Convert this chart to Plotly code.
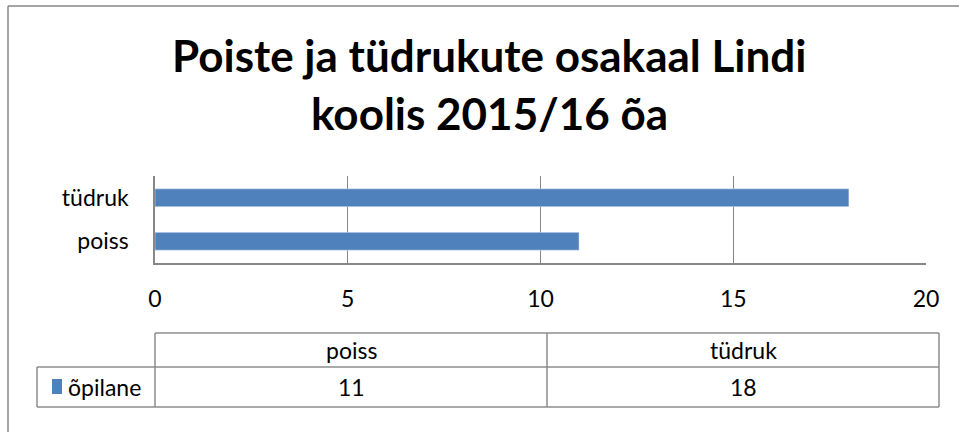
import plotly.graph_objects as go

# data
categories = ["poiss", "tüdruk"]
series_name = "õpilane"
values = [11, 18]
title_lines = ["Poiste ja tüdrukute osakaal Lindi", "koolis 2015/16 õa"]
x_ticks = [0, 5, 10, 15, 20]

W, H = 959, 432
L, R, T, B = 155, 33, 176, 169
BLUE = "#4F81BD"
GRAY = "#878787"
FONT = "Lato"


def px(x):
    return (x - L) / (W - L - R)


def py(y):
    return (H - B - y) / (H - T - B)


fig = go.Figure()
fig.add_trace(go.Bar(x=values, y=categories, orientation="h",
                     marker=dict(color=BLUE), name=series_name))

fig.update_layout(
    width=W, height=H,
    margin=dict(l=L, r=R, t=T, b=B),
    paper_bgcolor="white", plot_bgcolor="white",
    showlegend=False, bargap=0.59,
    font=dict(family=FONT, size=23, color="black"),
)
fig.update_xaxes(range=[0, 20], tickvals=x_ticks, showgrid=True, gridcolor=GRAY,
                 gridwidth=1.3, showline=True, linecolor=GRAY, linewidth=1.5,
                 zeroline=False, ticks="", ticklabelstandoff=15, fixedrange=True)
fig.update_yaxes(showgrid=False, showline=True, linecolor=GRAY, linewidth=1.5,
                 ticks="", ticklabelstandoff=20, fixedrange=True)

# title
for txt, y in zip(title_lines, [55, 113]):
    fig.add_annotation(text="<b>%s</b>" % txt, x=px(489), y=py(y), xref="paper", yref="paper",
                       showarrow=False, xanchor="center", yanchor="middle",
                       font=dict(family=FONT, size=44, color="black"))

# outer frame (cropped at right/bottom)
fig.add_shape(type="line", xref="paper", yref="paper", x0=px(8), x1=px(980), y0=py(6), y1=py(6),
              line=dict(color=GRAY, width=1.5))
fig.add_shape(type="line", xref="paper", yref="paper", x0=px(8), x1=px(8), y0=py(6), y1=py(450),
              line=dict(color=GRAY, width=1.5))

# data table
col_x = [155, 547, 939]
top, mid, bot, left = 333, 367, 407, 37
tline = dict(color="#8C8C8C", width=1.5)
segs = [
    (col_x[0], top, col_x[-1], top),
    (left, mid, col_x[-1], mid),
    (left, bot, col_x[-1], bot),
    (left, mid, left, bot),
] + [(x, top, x, bot) for x in col_x]
for x0, y0, x1, y1 in segs:
    fig.add_shape(type="line", xref="paper", yref="paper", x0=px(x0), x1=px(x1),
                  y0=py(y0), y1=py(y1), line=tline)

for i, (cat, val) in enumerate(zip(categories, values)):
    cx = (col_x[i] + col_x[i + 1]) / 2
    fig.add_annotation(text=cat, x=px(cx), y=py((top + mid) / 2), xref="paper", yref="paper",
                       showarrow=False, xanchor="center", yanchor="middle")
    fig.add_annotation(text=str(val), x=px(cx), y=py((mid + bot) / 2), xref="paper", yref="paper",
                       showarrow=False, xanchor="center", yanchor="middle")

# legend key + series label
fig.add_shape(type="rect", xref="paper", yref="paper", x0=px(52), x1=px(62),
              y0=py(379), y1=py(394), fillcolor=BLUE, line=dict(width=0))
fig.add_annotation(text=series_name, x=px(66), y=py((mid + bot) / 2), xref="paper", yref="paper",
                   showarrow=False, xanchor="left", yanchor="middle")

# page has a default 8px body margin; drop it so the figure sits at 0,0
fig.write_html("out.html", config={"displayModeBar": False},
               post_script="document.body.style.margin='0px';")
